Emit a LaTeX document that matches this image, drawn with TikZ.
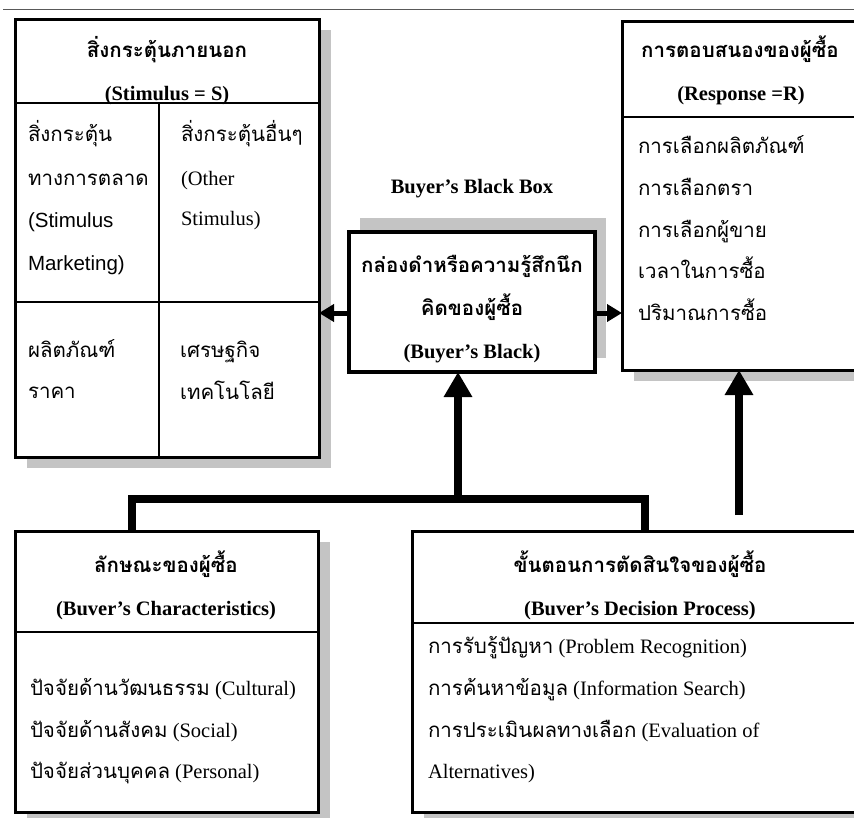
\documentclass[tikz,border=0pt]{standalone}
\usepackage{fontspec}
\setmainfont{Liberation Serif}
\newfontfamily\thai[Script=Thai]{Loma}
\newfontfamily\arial{Liberation Sans}
\usetikzlibrary{arrows.meta,shadows}
\definecolor{shade}{HTML}{C4C4C4}
\tikzset{
  box/.style={draw, line width=3pt, fill=white, inner sep=0pt, outer sep=0pt,
    drop shadow={shadow xshift=12pt, shadow yshift=-11pt, fill=shade, opacity=1}},
  bbox/.style={draw, line width=4.5pt, fill=white, inner sep=0pt, outer sep=0pt,
    drop shadow={shadow xshift=11pt, shadow yshift=14pt, fill=shade, opacity=1}},
  txt/.style={inner sep=0pt, outer sep=0pt, font=\fontsize{20.5pt}{24pt}\selectfont},
  div/.style={line width=1.2pt},
  sidearrow/.style={line width=5pt, -{Triangle[length=15pt,width=17pt]}},
  uparrow/.style={line width=7.5pt, -{Triangle[length=25pt,width=27pt]}},
  bar/.style={line width=7.5pt, line join=miter}
}
\begin{document}
\begin{tikzpicture}[x=1pt,y=-1pt]
\useasboundingbox (0,0) rectangle (854,817);
\clip (0,0) rectangle (854,817);
\fill[white] (0,0) rectangle (854,817);
\coordinate (tl) at (3,9);
\coordinate (tr) at (854,9);
\draw[gray!70!black, line width=0.8pt] (tl) -- (tr);

% boxes
\node[box, minimum width=304pt, minimum height=438pt] (S) at (167,238) {};
\node[box, minimum width=236pt, minimum height=349pt] (R) at (740,195.5) {};
\node[bbox, minimum width=246pt, minimum height=140pt] (BB) at (472,302) {};
\node[box, minimum width=303pt, minimum height=281pt] (C) at (166.5,671.5) {};
\node[box, minimum width=456pt, minimum height=281pt] (D) at (640,671.5) {};

% dividers
\draw[div] (S.west |- 0,103) -- (S.east |- 0,103);
\draw[div] (159,103) -- (159,457);
\draw[div] (S.west |- 0,302) -- (S.east |- 0,302);
\draw[div] (R.west |- 0,117) -- (R.east |- 0,117);
\draw[div] (C.west |- 0,632) -- (C.east |- 0,632);
\draw[div] (D.west |- 0,623) -- (D.east |- 0,623);

% Stimulus box texts
\node[txt, anchor=base] (st1) at (167,57) {\thai\bfseries สิ่งกระตุ้นภายนอก};
\node[txt, anchor=base] (st2) at (167,100) {\bfseries (Stimulus = S)};
\node[txt, anchor=base west] (sa1) at (28,141.7) {\thai สิ่งกระตุ้น};
\node[txt, anchor=base west] (sa2) at (28,185) {\thai ทางการตลาด};
\node[txt, anchor=base west] (sa3) at (28,227) {\arial (Stimulus};
\node[txt, anchor=base west] (sa4) at (28,270) {\arial Marketing)};
\node[txt, anchor=base west] (sb1) at (181,141.7) {\thai สิ่งกระตุ้นอื่นๆ};
\node[txt, anchor=base west] (sb2) at (181,185) {(Other};
\node[txt, anchor=base west] (sb3) at (181,225) {Stimulus)};
\node[txt, anchor=base west] (sc1) at (28,357) {\thai ผลิตภัณฑ์};
\node[txt, anchor=base west] (sc2) at (28,398) {\thai ราคา};
\node[txt, anchor=base west] (sd1) at (180,357) {\thai เศรษฐกิจ};
\node[txt, anchor=base west] (sd2) at (180,399) {\thai เทคโนโลยี};

% Black box
\node[txt, anchor=base] (bbl) at (472,193) {\bfseries Buyer’s Black Box};
\node[txt, anchor=base] (bb1) at (472,272) {\thai\bfseries กล่องดำหรือความรู้สึกนึก};
\node[txt, anchor=base] (bb2) at (472,315) {\thai\bfseries คิดของผู้ซื้อ};
\node[txt, anchor=base] (bb3) at (472,358) {\bfseries (Buyer’s Black)};

% Response box
\node[txt, anchor=base] (rt1) at (740,57) {\thai\bfseries การตอบสนองของผู้ซื้อ};
\node[txt, anchor=base] (rt2) at (741,100) {\bfseries (Response =R)};
\node[txt, anchor=base west] (r1) at (638,153) {\thai การเลือกผลิตภัณฑ์};
\node[txt, anchor=base west] (r2) at (638,195) {\thai การเลือกตรา};
\node[txt, anchor=base west] (r3) at (638,237) {\thai การเลือกผู้ขาย};
\node[txt, anchor=base west] (r4) at (638,278) {\thai เวลาในการซื้อ};
\node[txt, anchor=base west] (r5) at (638,320) {\thai ปริมาณการซื้อ};

% Characteristics box
\node[txt, anchor=base] (ct1) at (166,572) {\thai\bfseries ลักษณะของผู้ซื้อ};
\node[txt, anchor=base] (ct2) at (166,615) {\bfseries (Buver’s Characteristics)};
\node[txt, anchor=base west] (c1) at (30,695) {{\thai ปัจจัยด้านวัฒนธรรม} (Cultural)};
\node[txt, anchor=base west] (c2) at (30,737) {{\thai ปัจจัยด้านสังคม} (Social)};
\node[txt, anchor=base west] (c3) at (30,778) {{\thai ปัจจัยส่วนบุคคล} (Personal)};

% Decision box
\node[txt, anchor=base] (dt1) at (640,572) {\thai\bfseries ขั้นตอนการตัดสินใจของผู้ซื้อ};
\node[txt, anchor=base] (dt2) at (640,615) {\bfseries (Buver’s Decision Process)};
\node[txt, anchor=base west] (d1) at (428,653) {{\thai การรับรู้ปัญหา} (Problem Recognition)};
\node[txt, anchor=base west] (d2) at (428,695) {{\thai การค้นหาข้อมูล} (Information Search)};
\node[txt, anchor=base west] (d3) at (428,737) {{\thai การประเมินผลทางเลือก} (Evaluation of};
\node[txt, anchor=base west] (d4) at (428,778) {Alternatives)};

% connectors
\draw[sidearrow] ([yshift=-11pt]BB.west) -- ([yshift=-11pt]BB.west -| S.east);
\draw[sidearrow] ([yshift=-11pt]BB.east) -- ([yshift=-11pt]BB.east -| R.west);
\coordinate (barL) at (132,499);
\coordinate (barR) at (645,499);
\coordinate (j) at (458,499);
\coordinate (rs) at (739,515);
\draw[bar] (barL |- C.north) -- (barL) -- (barR) -- (barR |- D.north);
\draw[uparrow] (j) -- (j |- BB.south);
\draw[uparrow] (rs) -- (rs |- R.south);
\end{tikzpicture}
\end{document}
